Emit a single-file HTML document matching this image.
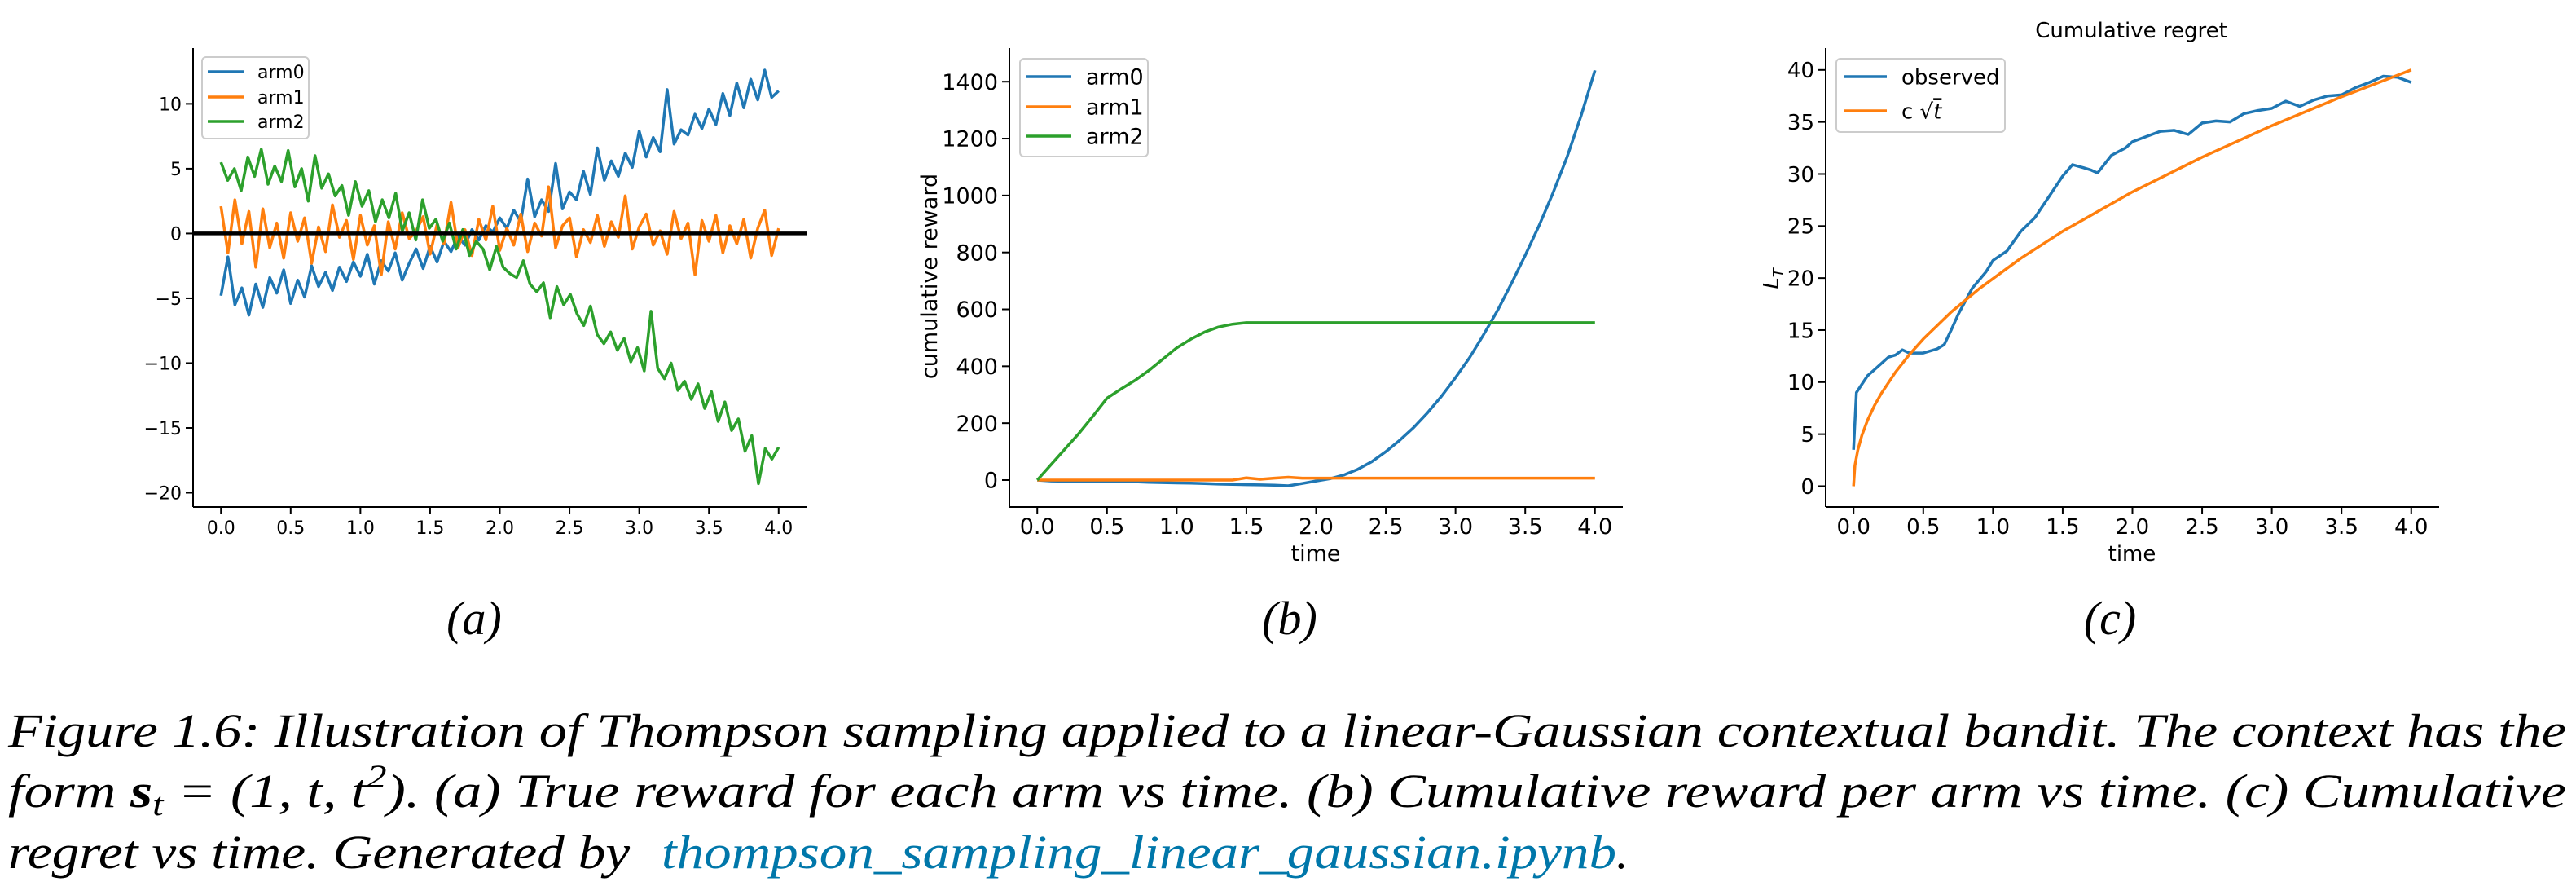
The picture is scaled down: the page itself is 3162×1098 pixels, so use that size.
<!DOCTYPE html>
<html><head><meta charset="utf-8"><style>
html,body{margin:0;padding:0;background:#fff;}
svg{display:block;}
text{font-family:"DejaVu Sans","Liberation Sans",sans-serif;}
.cap{font-family:"Liberation Serif",serif;font-style:italic;font-size:58px;fill:#000;}
</style></head><body>
<svg id="fig" width="3162" height="1098" viewBox="0 0 3162 1098" xmlns="http://www.w3.org/2000/svg">
<g id="pa"></g>
<g id="pb"></g>
<g id="pc"></g>
<text class="cap" x="582" y="778" text-anchor="middle">(a)</text>
<text class="cap" x="1583" y="778" text-anchor="middle">(b)</text>
<text class="cap" x="2590" y="778" text-anchor="middle">(c)</text>
<text class="cap" x="10" y="916" textLength="3140" lengthAdjust="spacingAndGlyphs">Figure 1.6: Illustration of Thompson sampling applied to a linear-Gaussian contextual bandit. The context has the</text>
<text class="cap" x="10" y="990" textLength="3140" lengthAdjust="spacingAndGlyphs">form <tspan font-weight="bold">s</tspan><tspan font-size="40" dy="10">t</tspan><tspan dy="-10"> = (1, t, t</tspan><tspan font-size="40" dy="-24">2</tspan><tspan dy="24">). (a) True reward for each arm vs time. (b) Cumulative reward per arm vs time. (c) Cumulative</tspan></text>
<text class="cap" x="10" y="1065"><tspan textLength="780" lengthAdjust="spacingAndGlyphs">regret vs time. Generated by </tspan><tspan x="812" fill="#0077aa" textLength="1172" lengthAdjust="spacingAndGlyphs">thompson_sampling_linear_gaussian.ipynb</tspan><tspan>.</tspan></text>
</svg>
<script>
// ---- Panel (a) data: true reward, evenly spaced in time 0..4 ----
const aTimeStart = 0, aTimeEnd = 4;
const aArm0 = [-4.8,-1.8,-5.5,-4.2,-6.3,-3.9,-5.7,-3.4,-4.6,-2.8,-5.4,-3.6,-4.9,-2.5,-4.1,-3.0,-4.4,-2.6,-3.7,-2.2,-3.3,-1.6,-3.9,-2.1,-2.9,-1.5,-3.6,-2.3,-1.2,-2.7,-1.0,-2.2,-0.6,-1.4,-0.2,-0.9,0.3,-0.5,0.6,0.1,1.2,0.4,1.8,0.9,4.2,1.3,2.6,1.7,5.4,1.9,3.2,2.6,4.8,3.0,6.6,4.1,5.6,4.4,6.2,5.1,7.9,5.9,7.4,6.3,11.1,6.9,8.0,7.6,9.2,8.1,9.6,8.4,10.8,9.1,11.6,9.7,11.9,10.3,12.6,10.5,11.0];
const aArm1 = [2.1,-1.5,2.6,-0.8,1.7,-2.6,1.9,-1.1,0.8,-1.9,1.6,-0.6,1.2,-2.3,0.5,-1.4,2.2,-0.3,1.0,-2.0,1.4,-0.9,0.6,-3.2,0.9,-1.2,1.6,-0.4,0.2,1.3,-1.6,0.7,-0.8,2.4,-1.1,0.3,-1.7,1.1,-0.5,2.1,-1.3,0.4,-0.9,1.5,-1.4,0.8,-0.2,3.6,-1.1,0.6,1.2,-1.8,0.3,-0.7,1.4,-1.0,0.9,-0.3,2.9,-1.2,0.5,1.5,-0.9,0.2,-1.6,1.7,-0.4,0.8,-3.2,1.0,-0.6,1.4,-1.5,0.6,-0.8,1.1,-1.9,0.4,1.8,-1.7,0.4];
const aArm2 = [5.5,4.1,5.0,3.3,5.9,4.4,6.5,3.8,5.2,4.0,6.4,3.6,5.0,2.5,6.0,3.5,4.6,2.9,3.7,1.4,4.0,2.1,3.3,0.9,2.6,1.2,3.1,0.2,1.6,-0.5,2.6,0.4,1.1,-0.6,0.8,-1.2,0.3,-1.7,-0.6,-1.2,-2.8,-1.0,-2.6,-3.1,-3.4,-2.1,-3.9,-4.5,-3.8,-6.5,-4.1,-5.5,-4.7,-6.2,-7.1,-5.6,-7.8,-8.5,-7.6,-9.0,-8.1,-9.9,-8.8,-10.6,-6.0,-10.4,-11.2,-10.0,-12.1,-11.4,-12.8,-11.6,-13.5,-12.2,-14.5,-13.0,-15.2,-14.3,-16.8,-15.6,-19.3,-16.6,-17.4,-16.5];
const aYTicks = [-20,-15,-10,-5,0,5,10];
const aYTickLabels = ["\u221220","\u221215","\u221210","\u22125","0","5","10"];
// ---- Panel (b) data: cumulative reward, t step 0.1 ----
const bTimes = [0,0.1,0.2,0.3,0.4,0.5,0.6,0.7,0.8,0.9,1.0,1.1,1.2,1.3,1.4,1.5,1.6,1.7,1.8,1.9,2.0,2.1,2.2,2.3,2.4,2.5,2.6,2.7,2.8,2.9,3.0,3.1,3.2,3.3,3.4,3.5,3.6,3.7,3.8,3.9,4.0];
const bArm0 = [0,-3,-4,-4,-5,-5,-6,-6,-8,-9,-10,-11,-12,-14,-15,-16,-17,-18,-20,-12,-3,5,18,38,65,100,140,185,237,295,360,430,510,595,690,790,895,1010,1135,1280,1440];
const bArm1 = [0,0,0,0,0,0,0,0,0,0,0,0,0,0,0,8,3,7,10,7,7,7,7,7,7,7,7,7,7,7,7,7,7,7,7,7,7,7,7,7,7];
const bArm2 = [0,55,110,165,225,288,320,350,385,425,465,495,520,538,548,553,553,553,553,553,553,553,553,553,553,553,553,553,553,553,553,553,553,553,553,553,553,553,553,553,553];
const bYTicks = [0,200,400,600,800,1000,1200,1400];
// ---- Panel (c) data: cumulative regret ----
const cObsTimes = [0,0.02,0.05,0.1,0.15,0.2,0.25,0.3,0.35,0.4,0.5,0.6,0.65,0.7,0.75,0.85,0.95,1.0,1.1,1.2,1.3,1.4,1.5,1.57,1.65,1.7,1.75,1.85,1.95,2.0,2.1,2.2,2.3,2.4,2.5,2.6,2.7,2.8,2.9,3.0,3.1,3.2,3.3,3.4,3.5,3.6,3.7,3.8,3.9,4.0];
const cObserved = [3.5,9.0,9.6,10.6,11.2,11.8,12.4,12.6,13.1,12.8,12.8,13.2,13.6,15.0,16.5,19.0,20.6,21.7,22.6,24.5,25.8,27.8,29.8,30.9,30.6,30.4,30.1,31.8,32.5,33.1,33.6,34.1,34.2,33.8,34.9,35.1,35.0,35.8,36.1,36.3,37.0,36.5,37.1,37.5,37.6,38.3,38.8,39.4,39.3,38.8];
const cSqrtTimes = [0,0.01,0.03,0.06,0.1,0.15,0.2,0.3,0.4,0.5,0.7,0.9,1.2,1.5,2.0,2.5,3.0,3.5,4.0];
const cSqrtVals = [0,2.0,3.46,4.9,6.32,7.75,8.94,10.95,12.65,14.14,16.73,18.97,21.91,24.49,28.28,31.62,34.64,37.42,40.0];
const cYTicks = [0,5,10,15,20,25,30,35,40];
const xTicks = [0,0.5,1.0,1.5,2.0,2.5,3.0,3.5,4.0];
const xTickLabels = ["0.0","0.5","1.0","1.5","2.0","2.5","3.0","3.5","4.0"];

const NS = "http://www.w3.org/2000/svg";
const C0 = "#1f77b4", C1 = "#ff7f0e", C2 = "#2ca02c";
function mk(tag, attrs, parent){const e=document.createElementNS(NS,tag);for(const k in attrs)e.setAttribute(k,attrs[k]);parent.appendChild(e);return e;}

function makeAxes(g, L, R, T, B, ymin, ymax, yticks, ylabels, fs){
  const xs = t => L + (t + 0.2) / 4.4 * (R - L);
  const ys = v => B - (v - ymin) / (ymax - ymin) * (B - T);
  const yAxis = mk("line",{x1:L,y1:T,x2:L,y2:B,stroke:"#000","stroke-width":2},g);
  
  
  const xAxis = mk("line",{x1:L,y1:B,x2:R,y2:B,stroke:"#000","stroke-width":2},g);
  
  
  xTicks.forEach((t,i)=>{
    const tk = mk("line",{x1:xs(t),y1:B,x2:xs(t),y2:B+9,stroke:"#000","stroke-width":2},g);
    
    
    const tl = mk("text",{x:xs(t),y:B+33,"text-anchor":"middle","font-size":fs},g);
    tl.textContent = xTickLabels[i];
    
    
  });
  yticks.forEach((v,i)=>{
    const tk = mk("line",{x1:L-9,y1:ys(v),x2:L,y2:ys(v),stroke:"#000","stroke-width":2},g);
    
    
    const tl = mk("text",{x:L-14,y:ys(v)+fs*0.36,"text-anchor":"end","font-size":fs},g);
    tl.textContent = ylabels ? ylabels[i] : String(v);
    
    
  });
  return {xs, ys};
}
function drawLine(g, times, vals, ax, color, name){
  const d = vals.map((v,i)=>(i?"L":"M")+ax.xs(times[i]).toFixed(1)+","+ax.ys(v).toFixed(1)).join("");
  const p = mk("path",{d:d,fill:"none",stroke:color,"stroke-width":3.5,"stroke-linejoin":"round"},g);
  
  
}
function legend(g, x, y, w, h, entries, lx1, lx2, tx, ey, fs){
  const box = mk("rect",{x:x,y:y,width:w,height:h,rx:5,fill:"#fff","fill-opacity":0.8,stroke:"#ccc","stroke-width":2},g);
  
  
  entries.forEach((e,i)=>{
    const ln = mk("line",{x1:lx1,y1:ey[i],x2:lx2,y2:ey[i],stroke:e[1],"stroke-width":3.5},g);
    
    
    const t = mk("text",{x:tx,y:ey[i]+fs*0.36,"font-size":fs},g);
    t.innerHTML = e[0];
    
    
  });
}
function evenTimes(n){const a=[];for(let i=0;i<n;i++)a.push(aTimeStart+(aTimeEnd-aTimeStart)*i/(n-1));return a;}

// Panel a
const ga = document.getElementById("pa");
const axA = makeAxes(ga, 237, 990, 59, 622, -21.1, 14.3, aYTicks, aYTickLabels, 22);
drawLine(ga, evenTimes(aArm0.length), aArm0, axA, C0, "arm0-line");
drawLine(ga, evenTimes(aArm1.length), aArm1, axA, C1, "arm1-line");
drawLine(ga, evenTimes(aArm2.length), aArm2, axA, C2, "arm2-line");
const zl = mk("line",{x1:237,y1:axA.ys(0),x2:990,y2:axA.ys(0),stroke:"#000","stroke-width":4.5},ga);


legend(ga, 248, 70, 131, 100, [["arm0",C0],["arm1",C1],["arm2",C2]], 255, 300, 316, [88,119,149], 22);

// Panel b
const gb = document.getElementById("pb");
const axB = makeAxes(gb, 1239, 1992, 59, 622, -94.5, 1518, bYTicks, null, 27);
drawLine(gb, bTimes, bArm0, axB, C0, "arm0-cumulative-line");
drawLine(gb, bTimes, bArm1, axB, C1, "arm1-cumulative-line");
drawLine(gb, bTimes, bArm2, axB, C2, "arm2-cumulative-line");
legend(gb, 1252, 72, 157, 120, [["arm0",C0],["arm1",C1],["arm2",C2]], 1260, 1315, 1333, [94,131,167], 27);
const bx = mk("text",{x:1615,y:688,"text-anchor":"middle","font-size":27},gb);
bx.textContent = "time";


const by = mk("text",{x:1150,y:339,"text-anchor":"middle","font-size":27,transform:"rotate(-90 1150 339)"},gb);
by.textContent = "cumulative reward";



// Panel c
const gc = document.getElementById("pc");
const axC = makeAxes(gc, 2241, 2994, 59, 622, -2.0, 42.1, cYTicks, null, 26);
drawLine(gc, cObsTimes, cObserved, axC, C0, "observed-regret-line");
drawLine(gc, cSqrtTimes, cSqrtVals, axC, C1, "sqrt-t-line");
legend(gc, 2254, 72, 207, 90, [["observed",C0],["c \u221A<tspan font-style='italic' text-decoration='overline'>t</tspan>",C1]], 2263, 2316, 2334, [94,136], 26);
const ct = mk("text",{x:2616,y:46,"text-anchor":"middle","font-size":26},gc);
ct.textContent = "Cumulative regret";


const cx = mk("text",{x:2617,y:688,"text-anchor":"middle","font-size":26},gc);
cx.textContent = "time";


const cy = mk("text",{x:2183,y:342,"text-anchor":"middle","font-size":26,"font-style":"italic",transform:"rotate(-90 2183 342)"},gc);
cy.innerHTML = "L<tspan font-size='18' dy='6'>T</tspan>";


</script>
</body></html>
